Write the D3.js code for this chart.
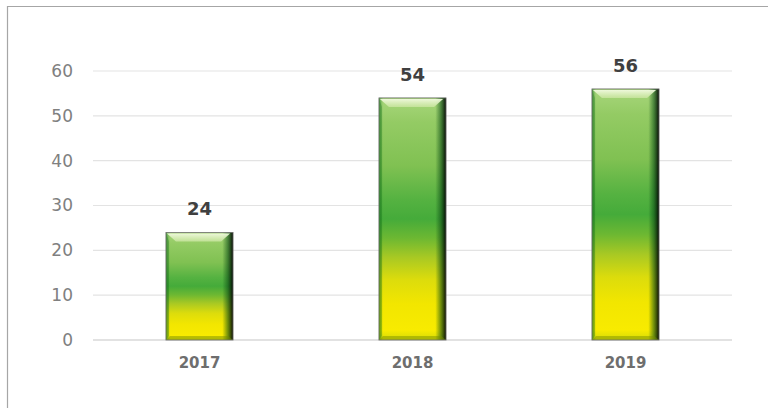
<!DOCTYPE html>
<html>
<head>
<meta charset="utf-8">
<script src="https://cdn.jsdelivr.net/npm/d3@7"></script>
<style>
  html, body { margin: 0; padding: 0; background: #ffffff; }
  svg { display: block; }
</style>
</head>
<body>
<svg id="chart" width="768" height="408"></svg>
<script>
const categories = ["2017", "2018", "2019"];
const values = [24, 54, 56];
const yTicks = [0, 10, 20, 30, 40, 50, 60];

const W = 768, H = 408;
const margin = { left: 93, right: 36, top: 71, bottom: 68 };
const svg = d3.select("#chart");

// outer frame (only top and left edges are visible)
svg.append("line").attr("x1", 7).attr("x2", W).attr("y1", 6.5).attr("y2", 6.5).attr("stroke", "#a6a6a6").attr("stroke-width", 1.2);
svg.append("line").attr("x1", 7.5).attr("x2", 7.5).attr("y1", 6).attr("y2", H).attr("stroke", "#a6a6a6").attr("stroke-width", 1.2);

const x = d3.scaleBand().domain(categories).range([margin.left, W - margin.right]).paddingInner(0.685).paddingOuter(0.3425);
const y = d3.scaleLinear().domain([0, 60]).range([H - margin.bottom, margin.top]);

// gradients
const defs = svg.append("defs");
function grad(id, horiz, stops) {
  const gr = defs.append("linearGradient").attr("id", id)
    .attr("x1", 0).attr("y1", 0).attr("x2", horiz ? 1 : 0).attr("y2", horiz ? 0 : 1);
  stops.forEach(([o, c, a]) => gr.append("stop").attr("offset", o).attr("stop-color", c).attr("stop-opacity", a === undefined ? 1 : a));
}
grad("vgrad", false, [[0, "#a8d67c"], [0.1, "#94cb64"], [0.28, "#80c152"], [0.42, "#55b241"], [0.5, "#45ab3a"], [0.58, "#6db832"], [0.66, "#a9c923"], [0.75, "#dcdc0c"], [0.85, "#f2e600"], [0.96, "#f8eb00"], [1, "#d4da08"]]);
grad("hgrad", true, [[0, "#0e6a1e", 0.55], [0.06, "#1f8a2a", 0.0], [0.84, "#0a4a14", 0.0], [0.92, "#0a4a14", 0.55], [1, "#000000", 0.95]]);
grad("tgrad", false, [[0, "#f2fae0", 0.95], [1, "#cfe8a6", 0.75]]);

// gridlines
svg.append("g").selectAll("line").data(yTicks).join("line")
  .attr("x1", margin.left).attr("x2", W - margin.right)
  .attr("y1", d => y(d)).attr("y2", d => y(d))
  .attr("stroke", d => d === 0 ? "#d9d9d9" : "#e3e3e3").attr("stroke-width", d => d === 0 ? 1.5 : 1.2);

// y axis labels
const yAxis = d3.axisLeft(y).tickValues(yTicks).tickSize(0).tickPadding(0);
const ya = svg.append("g").attr("transform", `translate(${margin.left - 20},0)`).call(yAxis);
ya.select(".domain").remove();
ya.selectAll("text").attr("font-family", "DejaVu Sans, sans-serif").attr("font-size", 17).attr("fill", "#808080");

// x axis labels
const xAxis = d3.axisBottom(x).tickSize(0).tickPadding(0);
const xa = svg.append("g").attr("transform", `translate(0,${H - margin.bottom + 17})`).call(xAxis);
xa.select(".domain").remove();
xa.selectAll("text").attr("font-family", "DejaVu Sans, sans-serif").attr("font-size", 15).attr("font-weight", "bold").attr("fill", "#6e6e6e");

// bars
const data = categories.map((c, i) => ({ c, v: values[i] }));
const bw = x.bandwidth();
const b = 9;
const g = svg.append("g").selectAll("g").data(data).join("g");
g.append("rect").attr("x", d => x(d.c)).attr("y", d => y(d.v)).attr("width", bw).attr("height", d => y(0) - y(d.v)).attr("fill", "url(#vgrad)");
g.append("rect").attr("x", d => x(d.c)).attr("y", d => y(d.v)).attr("width", bw).attr("height", d => y(0) - y(d.v)).attr("fill", "url(#hgrad)");
// top bevel
g.append("polygon").attr("points", d => {
  const x0 = x(d.c), y0 = y(d.v);
  return [[x0 + 1, y0 + 1], [x0 + bw - 3, y0 + 1], [x0 + bw - b - 3, y0 + b], [x0 + b + 1, y0 + b]].join(" ");
}).attr("fill", "url(#tgrad)");
// left bevel
g.append("polygon").attr("points", d => {
  const x0 = x(d.c), y0 = y(d.v), y1 = y(0);
  return [[x0, y0], [x0 + 3, y0 + b], [x0 + 3, y1 - 4], [x0, y1]].join(" ");
}).attr("fill", "rgba(20,110,20,0.3)");
// bottom bevel
g.append("polygon").attr("points", d => {
  const x0 = x(d.c), y1 = y(0);
  return [[x0, y1], [x0 + 4, y1 - 4], [x0 + bw - 5, y1 - 4], [x0 + bw, y1]].join(" ");
}).attr("fill", "rgba(120,140,0,0.45)");
g.append("rect").attr("x", d => x(d.c)).attr("y", d => y(d.v)).attr("width", bw).attr("height", d => y(0) - y(d.v))
  .attr("fill", "none").attr("stroke", "#6f6f6f").attr("stroke-width", 0.8);

// data labels
svg.append("g").selectAll("text").data(data).join("text")
  .attr("x", d => x(d.c) + bw / 2).attr("y", d => y(d.v) - 17)
  .attr("text-anchor", "middle").attr("font-family", "DejaVu Sans, sans-serif").attr("font-size", 18).attr("font-weight", "bold")
  .attr("fill", "#404040").text(d => d.v);
</script>
</body>
</html>
